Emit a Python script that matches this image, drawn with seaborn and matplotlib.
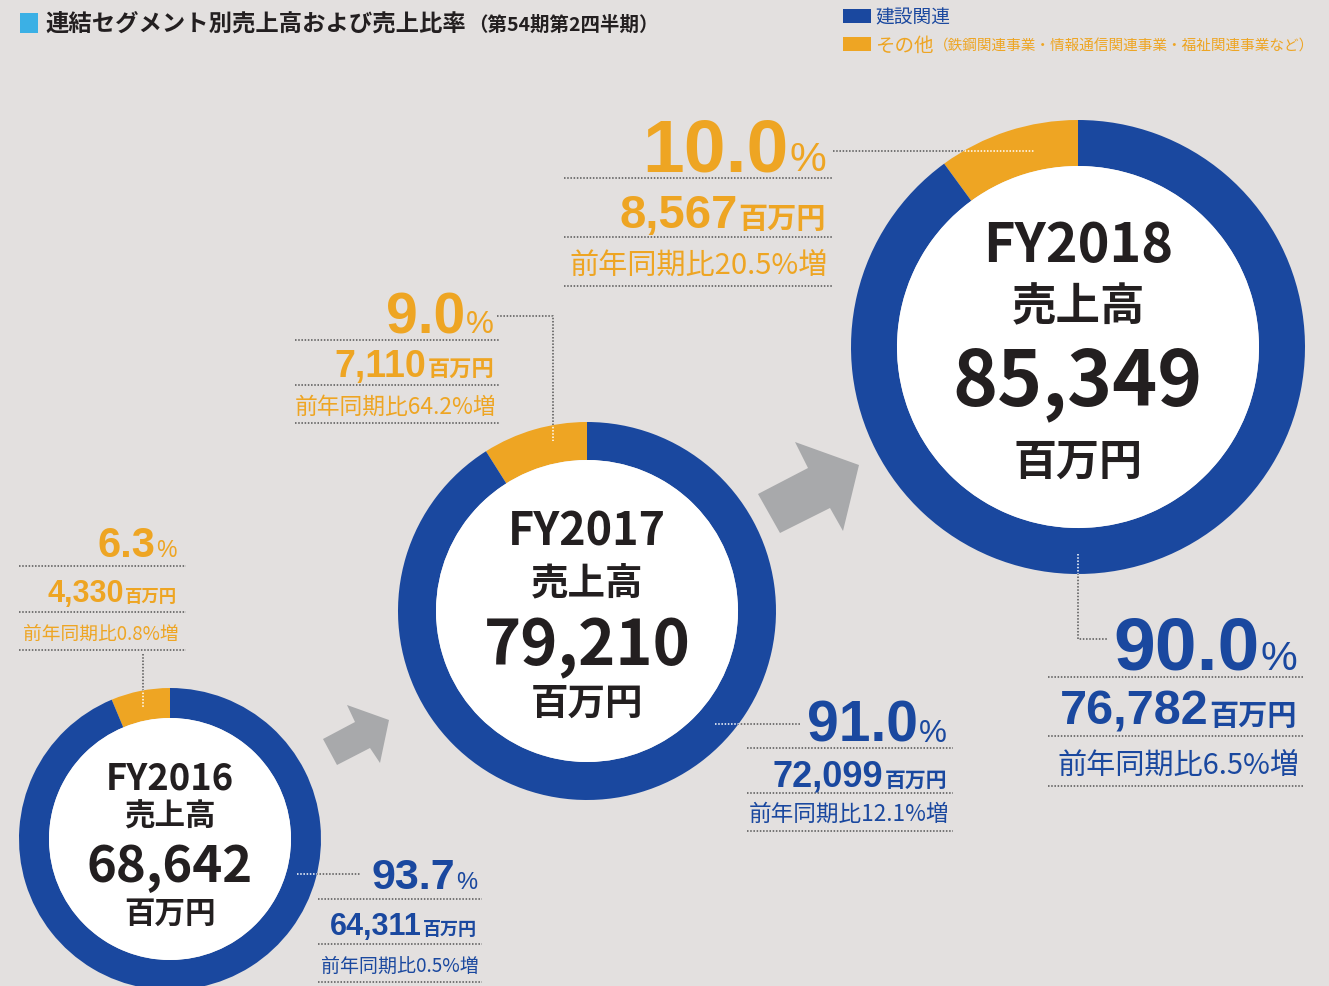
import matplotlib
matplotlib.use("Agg")
import matplotlib.pyplot as plt
from matplotlib.patches import Circle, Rectangle, Polygon
import seaborn as sns

# --- data ---
years = ["FY2016", "FY2017", "FY2018"]
sales_total = [68642, 79210, 85349]
sales_construction = [64311, 72099, 76782]
sales_other = [4330, 7110, 8567]
share_construction = [93.7, 91.0, 90.0]
share_other = [6.3, 9.0, 10.0]
yoy_construction = [0.5, 12.1, 6.5]
yoy_other = [0.8, 64.2, 20.5]

legend_labels = ["建設関連", "その他"]
legend_note = "（鉄鋼関連事業・情報通信関連事業・福祉関連事業など）"
title = "連結セグメント別売上高および売上比率"
subtitle = "（第54期第2四半期）"

# --- layout (pixels) ---
W, H = 1329, 987
centers = [(170, 840), (587, 612), (1078, 348)]
r_outer = [151, 189, 227]
r_inner = [121, 151, 181]
fy_text = [(128, 789), (158, 545), (190, 262)]     # (target width, baseline)
uri_text = [(22, 826), (27, 594), (32, 320)]
tot_text = [(166, 882), (207, 665), (250, 405)]    # (target width, baseline)
unit_text = [(22, 923), (27, 715), (31, 475)]

blocks_other = [
    dict(xr=177, pct=(557, 30), amt=(602, 22, 12.5), yoy=(640, 13.5), seps=(567, 613, 651), span=(19, 186)),
    dict(xr=494, pct=(333, 41), amt=(377, 27, 16), yoy=(414, 16.4), seps=(341, 386, 424), span=(295, 499)),
    dict(xr=826, pct=(171, 54), amt=(228, 34, 21), yoy=(274, 21), seps=(179, 238, 287), span=(564, 832)),
]
blocks_cons = [
    dict(xr=477, pct=(889, 31), amt=(935, 22, 13), yoy=(972, 13.7), seps=(900, 945, 983), span=(318, 482)),
    dict(xr=947, pct=(742, 41), amt=(787, 26, 15), yoy=(821, 16.3), seps=(749, 794, 832), span=(747, 953)),
    dict(xr=1297, pct=(670, 54), amt=(725, 35, 21), yoy=(774, 21), seps=(678, 737, 787), span=(1048, 1303)),
]
leaders_other = [[(143, 655), (143, 708)], [(497, 317), (553, 317), (553, 442)], [(833, 152), (1035, 152)]]
leaders_cons = [[(297, 875), (360, 875)], [(715, 725), (800, 725)], [(1078, 555), (1078, 640), (1108, 640)]]
arrows = [
    [(323, 740), (355, 723), (347, 706), (389, 721), (380, 764), (370, 749), (337, 766)],
    [(758, 495), (808, 469), (795, 443), (859, 466), (843, 532), (830, 509), (780, 534)],
]

BG = "#E3E0DF"
BLUE = "#1A489F"
ORANGE = "#EEA523"
INK = "#231F20"
DOT = "#555555"

sns.set_theme(style="white")
JP = ["Noto Sans CJK JP", "DejaVu Sans"]
NUM = ["Liberation Sans", "DejaVu Sans"]
plt.rcParams["font.family"] = JP

fig = plt.figure(figsize=(W / 100, H / 100), dpi=100, facecolor=BG)
ax = fig.add_axes([0, 0, 1, 1])
ax.set_facecolor(BG)
renderer = fig.canvas.get_renderer()


def rjust(xr, y, parts, gap=2):
    x = xr
    for s, kw in reversed(parts):
        t = ax.text(x, y, s, ha="right", va="baseline", **kw)
        x -= t.get_window_extent(renderer).width + gap


def fit_text(x, y, s, width, **kw):
    t = ax.text(x, y, s, ha="center", va="baseline", fontsize=20, **kw)
    w = t.get_window_extent(renderer).width
    t.set_fontsize(20 * width / w)
    return t


def dotted(pts, color=DOT, clip=None, z=1):
    xs, ys = zip(*pts)
    ln, = ax.plot(xs, ys, color=color, lw=1.1, ls=(0, (1, 1.1)), zorder=z, solid_capstyle="butt")
    if clip is not None:
        ln.set_clip_path(clip)


# arrows
for pts in arrows:
    ax.add_patch(Polygon(pts, closed=True, facecolor="#A8A9AB", edgecolor="none", zorder=1))

# donuts
for i, yr in enumerate(years):
    cx, cy = centers[i]
    wedges, _ = ax.pie([sales_other[i], sales_construction[i]], colors=[ORANGE, BLUE],
                       startangle=-90, counterclock=False, radius=r_outer[i], center=(cx, cy),
                       frame=True, wedgeprops=dict(width=r_outer[i] - r_inner[i], linewidth=0))
    for w in wedges:
        w.set_zorder(2)
    ax.add_patch(Circle((cx, cy), r_inner[i], facecolor="white", edgecolor="none", zorder=2))

    # leaders: grey on background, white over the ring
    dotted(leaders_other[i])
    dotted(leaders_other[i], color="white", clip=wedges[0], z=3)
    dotted(leaders_cons[i])
    dotted(leaders_cons[i], color="white", clip=wedges[1], z=3)

    fit_text(cx, fy_text[i][1], yr, fy_text[i][0], fontweight="bold", color=INK, zorder=4)
    ax.text(cx, uri_text[i][1], "売上高", ha="center", va="baseline", fontsize=uri_text[i][0],
            fontweight="bold", color=INK, zorder=4)
    fit_text(cx, tot_text[i][1], f"{sales_total[i]:,}", tot_text[i][0], fontweight="bold", color=INK, zorder=4)
    ax.text(cx, unit_text[i][1], "百万円", ha="center", va="baseline", fontsize=unit_text[i][0],
            fontweight="bold", color=INK, zorder=4)

    # label blocks
    for blk, share, amt, yoy, col in [(blocks_other[i], share_other[i], sales_other[i], yoy_other[i], ORANGE),
                                      (blocks_cons[i], share_construction[i], sales_construction[i],
                                       yoy_construction[i], BLUE)]:
        xr = blk["xr"]
        ps = blk["pct"][1]
        rjust(xr, blk["pct"][0], [(f"{share:.1f}", dict(fontsize=ps, family=NUM, fontweight="bold", color=col)),
                                   ("%", dict(fontsize=ps * 0.55, family=NUM, color=col))], gap=1)
        rjust(xr, blk["amt"][0], [(f"{amt:,}", dict(fontsize=blk["amt"][1], family=NUM, fontweight="bold", color=col)),
                                   ("百万円", dict(fontsize=blk["amt"][2], fontweight="bold", color=col))], gap=1)
        ax.text(xr + 2, blk["yoy"][0], f"前年同期比{yoy}%増", ha="right", va="baseline",
                fontsize=blk["yoy"][1], color=col)
        for sy in blk["seps"]:
            dotted([(blk["span"][0], sy), (blk["span"][1], sy)])

# title
ax.add_patch(Rectangle((20, 14), 18, 20, facecolor="#3BB0E5", edgecolor="none"))
t = ax.text(45, 24, title, ha="left", va="center", fontsize=16.8, fontweight="bold", color=INK)
bb = t.get_window_extent(renderer)
ax.text(45 + bb.width + 2, 25, subtitle, ha="left", va="center", fontsize=14, fontweight="bold", color=INK)

# legend
ax.add_patch(Rectangle((843, 10), 28, 14, facecolor=BLUE, edgecolor="none"))
ax.add_patch(Rectangle((843, 38), 28, 14, facecolor=ORANGE, edgecolor="none"))
ax.text(875, 18, legend_labels[0], ha="left", va="center", fontsize=13.5, color=BLUE)
t = ax.text(875, 46, legend_labels[1], ha="left", va="center", fontsize=14, color=ORANGE)
bb = t.get_window_extent(renderer)
ax.text(875 + bb.width, 47, legend_note, ha="left", va="center", fontsize=10.5, color=ORANGE)

ax.set_xlim(0, W)
ax.set_ylim(H, 0)
ax.set_aspect("equal")
ax.axis("off")
fig.savefig("out.png", dpi=100, facecolor=BG)
